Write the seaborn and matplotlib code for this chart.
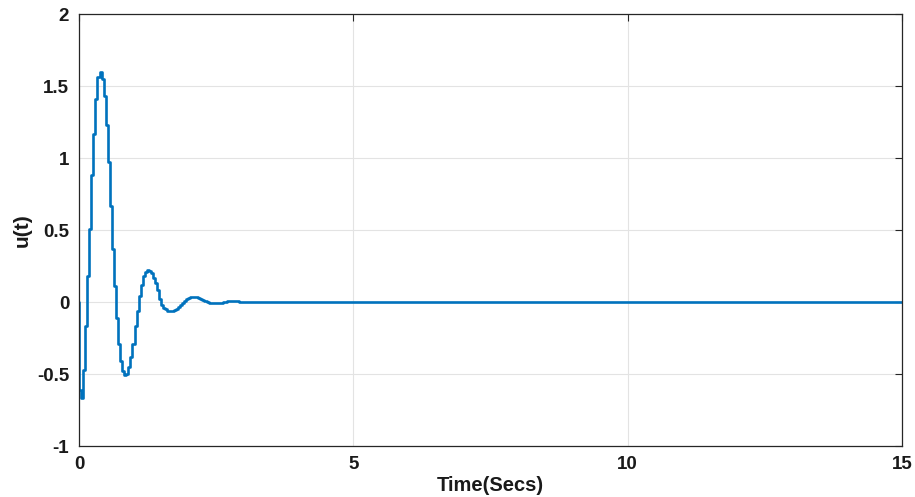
import numpy as np
import pandas as pd
import matplotlib
matplotlib.use("Agg")
import matplotlib.pyplot as plt
import seaborn as sns

# Controller output u(t), zero-order-hold samples
SAMPLE_TIME = 0.0375
T_END = 15.0
u_initial = 0.0
u_samples = [
    -0.61, -0.67, -0.47, -0.17, 0.18, 0.51, 0.88, 1.17, 1.41, 1.56,
    1.60, 1.55, 1.43, 1.23, 0.97, 0.67, 0.37, 0.11, -0.11, -0.29,
    -0.41, -0.48, -0.51, -0.50, -0.45, -0.38, -0.29, -0.17, -0.06, 0.04,
    0.12, 0.18, 0.21, 0.22, 0.215, 0.20, 0.17, 0.13, 0.08, 0.02,
    -0.02, -0.04, -0.052, -0.060, -0.063, -0.063, -0.058, -0.048, -0.035, -0.020,
    -0.005, 0.008, 0.020, 0.029, 0.035, 0.037, 0.036, 0.032, 0.026, 0.019,
    0.011, 0.004, -0.002, -0.006, -0.009, -0.010, -0.010, -0.010, -0.008, -0.005,
    -0.002, 0.001, 0.004, 0.006, 0.007, 0.007, 0.006, 0.004, 0.002, 0.0,
]
x_ticks = [0, 5, 10, 15]
x_ticklabels = ["0", "5", "10", "15"]
y_ticks = [-1, -0.5, 0, 0.5, 1, 1.5, 2]
y_ticklabels = ["-1", "-0.5", "0", "0.5", "1", "1.5", "2"]

t_samples = np.arange(len(u_samples)) * SAMPLE_TIME
t = np.concatenate([[0.0], t_samples, [T_END]])
u = np.concatenate([[u_initial], u_samples, [u_samples[-1]]])
df = pd.DataFrame({"t": t, "u": u})

sns.set_style("whitegrid")
plt.rcParams["font.family"] = ["Liberation Sans", "DejaVu Sans"]
plt.rcParams["font.weight"] = "bold"

fig = plt.figure(figsize=(9.15, 4.97), dpi=100)
ax = fig.add_axes([0.0863, 0.1026, 0.8995, 0.8692])

sns.lineplot(data=df, x="t", y="u", ax=ax, estimator=None, sort=False,
             drawstyle="steps-post", color="#0072BD", linewidth=1.9)

ax.set_xlim(0, 15)
ax.set_ylim(-1, 2)
ax.set_xticks(x_ticks)
ax.set_xticklabels(x_ticklabels)
ax.set_yticks(y_ticks)
ax.set_yticklabels(y_ticklabels)

ax.grid(True, color="#e3e3e3", linewidth=0.8)
for s in ax.spines.values():
    s.set_visible(True)
    s.set_color("#262626")
    s.set_linewidth(0.9)

ax.tick_params(axis="both", which="major", direction="in", length=5, width=0.8,
               color="#262626", labelsize=13.5, labelcolor="#1a1a1a",
               top=True, right=True)
ax.tick_params(axis="x", pad=7)
ax.tick_params(axis="y", pad=7)
for lab in ax.get_xticklabels() + ax.get_yticklabels():
    lab.set_fontweight("bold")

ax.set_xlabel("Time(Secs)", fontsize=14.5, fontweight="bold", color="#1a1a1a", labelpad=2)
ax.set_ylabel("u(t)", fontsize=15, fontweight="bold", color="#1a1a1a", labelpad=4)

fig.savefig("out.png", dpi=100)
